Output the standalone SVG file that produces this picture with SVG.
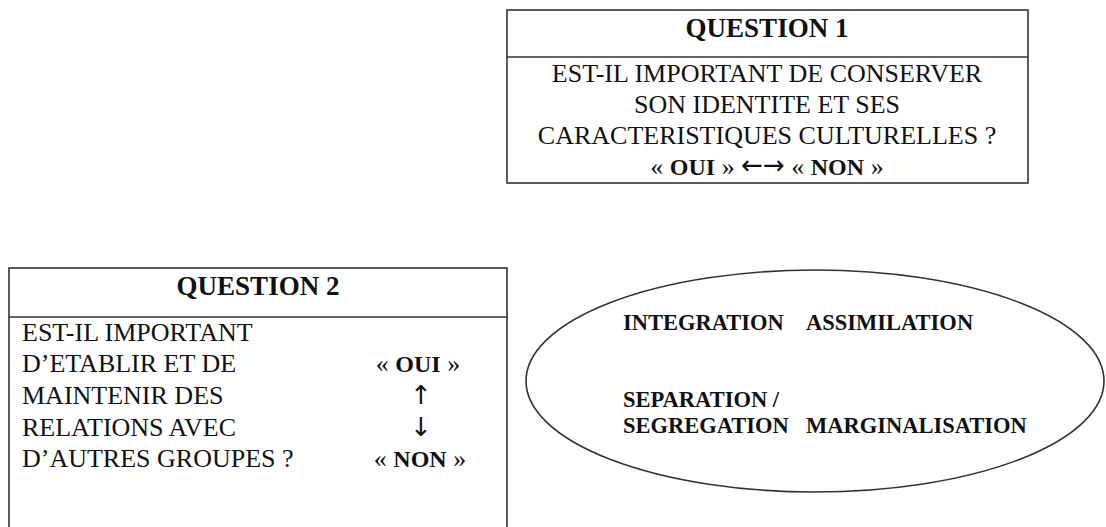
<svg xmlns="http://www.w3.org/2000/svg" width="1106" height="527" viewBox="0 0 1106 527">
<style>
.box{fill:#fff;stroke:#333;stroke-width:1.6}
.ln{stroke:#333;stroke-width:1.6;fill:none}
text{font-family:"Liberation Serif","Times New Roman",serif;fill:#111}
.t{font-size:27px;font-weight:bold}
.b{font-size:26px}
.k{font-weight:bold;font-size:24px}
.ar{font-family:"DejaVu Sans",sans-serif;font-size:26px;font-weight:normal}
.e{font-size:22.5px;font-weight:bold}
</style>
<rect width="1106" height="527" fill="#fff"/>
<g id="question1">
<rect class="box" x="507" y="10" width="521" height="173"/>
<line class="ln" x1="507" y1="57" x2="1028" y2="57"/>
<text class="t" x="767" y="37" text-anchor="middle">QUESTION 1</text>
<text class="b" x="767" y="82" text-anchor="middle">EST-IL IMPORTANT DE CONSERVER</text>
<text class="b" x="767" y="113" text-anchor="middle">SON IDENTITE ET SES</text>
<text class="b" x="767" y="144" text-anchor="middle">CARACTERISTIQUES CULTURELLES ?</text>
<text class="b" x="767" y="175" text-anchor="middle">« <tspan class="k">OUI</tspan> » <tspan class="ar" dy="-1">←→</tspan><tspan dy="1"> « </tspan><tspan class="k">NON</tspan> »</text>
</g>
<g id="question2">
<rect class="box" x="9" y="268" width="498" height="270"/>
<line class="ln" x1="9" y1="317" x2="507" y2="317"/>
<text class="t" x="258" y="295" text-anchor="middle">QUESTION 2</text>
<text class="b" x="22" y="341">EST-IL IMPORTANT</text>
<text class="b" x="22" y="372">D’ETABLIR ET DE</text>
<text class="b" x="22" y="404">MAINTENIR DES</text>
<text class="b" x="22" y="436">RELATIONS AVEC</text>
<text class="b" x="22" y="467">D’AUTRES GROUPES ?</text>
<text class="b" x="418" y="372" text-anchor="middle">« <tspan class="k">OUI</tspan> »</text>
<text class="b ar" x="421" y="404" text-anchor="middle">↑</text>
<text class="b ar" x="421" y="436" text-anchor="middle">↓</text>
<text class="b" x="420" y="467" text-anchor="middle">« <tspan class="k">NON</tspan> »</text>
</g>
<g id="strategies">
<ellipse class="box" cx="815" cy="381" rx="289" ry="111"/>
<text class="e" x="623" y="330">INTEGRATION</text>
<text class="e" x="806" y="330">ASSIMILATION</text>
<text class="e" x="623" y="407">SEPARATION /</text>
<text class="e" x="623" y="433">SEGREGATION</text>
<text class="e" x="806" y="433">MARGINALISATION</text>
</g>
<g id="connectors"></g>
</svg>
